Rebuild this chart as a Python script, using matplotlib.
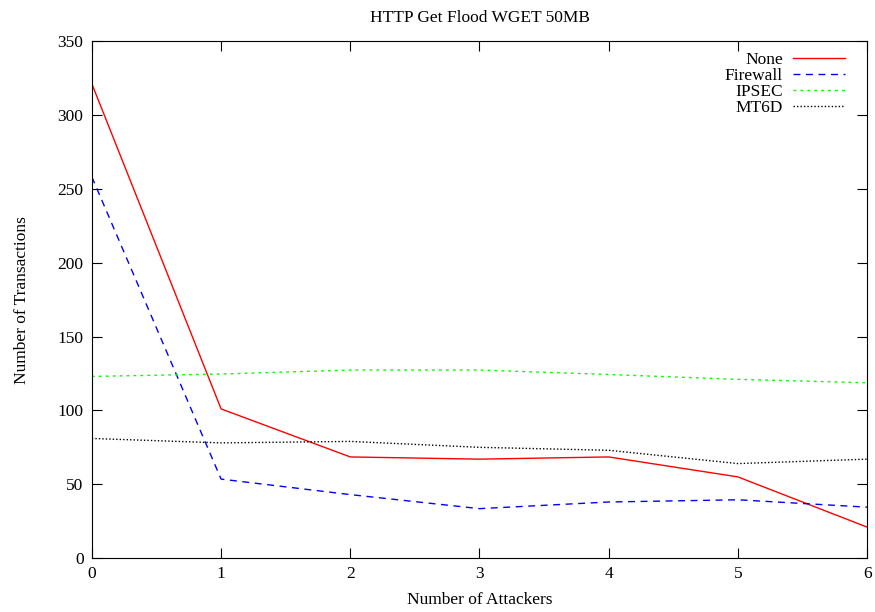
import matplotlib
matplotlib.use("Agg")
import matplotlib.pyplot as plt

attackers = [0, 1, 2, 3, 4, 5, 6]
none_vals = [321, 101, 68.5, 67, 68.5, 55, 21]
firewall_vals = [258, 53.5, 43, 33.5, 38, 39.5, 34.5]
ipsec_vals = [123, 124.6, 127.3, 127.3, 124.3, 121, 118.7]
mt6d_vals = [81, 78, 79, 75, 73, 64, 67]

plt.rcParams['font.family'] = ['Liberation Serif', 'DejaVu Serif']
plt.rcParams['font.size'] = 12.5

fig = plt.figure(figsize=(8.75, 6.12), dpi=100)
ax = fig.add_axes([0.105, 0.088, 0.886, 0.845])

ax.plot(attackers, none_vals, color='#ff0000', lw=1, label='None')
ax.plot(attackers, firewall_vals, color='#0000ff', lw=1, ls=(0, (5, 4)), label='Firewall')
ax.plot(attackers, ipsec_vals, color='#00ff00', lw=1, ls=(0, (2, 3)), label='IPSEC')
ax.plot(attackers, mt6d_vals, color='black', lw=1, ls=(0, (1, 1.5)), label='MT6D')

ax.set_xlim(0, 6)
ax.set_ylim(0, 350)
ax.set_xticks(attackers)
ax.set_yticks(range(0, 351, 50))
ax.tick_params(direction='in', top=True, right=True, length=7, labelsize=12.5, pad=6)

ax.set_title("HTTP Get Flood WGET 50MB", fontsize=12.5, pad=14)
ax.set_xlabel("Number of Attackers", fontsize=12.5, labelpad=7)
ax.set_ylabel("Number of Transactions", fontsize=12.5, labelpad=20)

ax.legend(loc='upper right', bbox_to_anchor=(0.972, 0.979), frameon=False,
          markerfirst=False, handlelength=3.0, handletextpad=0.6,
          labelspacing=0.0, fontsize=12.5, borderaxespad=0, borderpad=0)

fig.savefig("out.png", dpi=100)
